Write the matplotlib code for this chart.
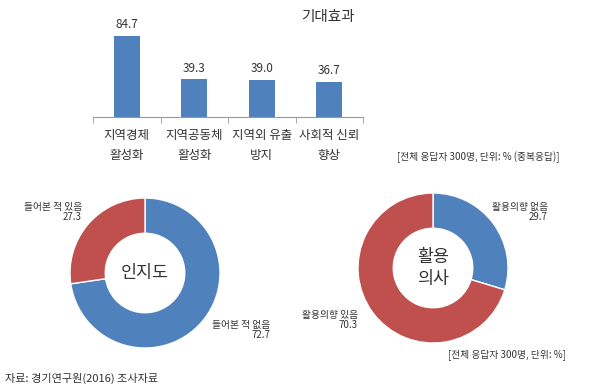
import matplotlib
matplotlib.use("Agg")
from matplotlib import pyplot as plt

plt.rcParams['font.family'] = ['Noto Sans CJK KR', 'DejaVu Sans']

W, H = 600, 388

# 기대효과 (중복응답)
effect_labels = ['지역경제\n활성화', '지역공동체\n활성화', '지역외 유출\n방지', '사회적 신뢰\n향상']
effect_values = [84.7, 39.3, 39.0, 36.7]

# 인지도
aware_labels = ['들어본 적 없음', '들어본 적 있음']
aware_values = [72.7, 27.3]

# 활용의사
use_labels = ['활용의향 없음', '활용의향 있음']
use_values = [29.7, 70.3]

blue = '#4F81BD'
red = '#C0504D'
txt = '#333333'

fig = plt.figure(figsize=(W / 100, H / 100), dpi=100)
fig.patch.set_facecolor('white')

def px_axes(x0, y_top, w, h):
    # pixel box (top-left origin) -> figure fraction
    return fig.add_axes([x0 / W, (H - y_top - h) / H, w / W, h / H])

def px_text(x, y, s, **kw):
    fig.text(x / W, 1 - y / H, s, **kw)

# ---- bar chart ----
ax = px_axes(93, 117 - 95.6, 270, 95.6)
xs = range(len(effect_values))
ax.bar(xs, effect_values, width=0.38, color=blue)
for x, v in zip(xs, effect_values):
    ax.text(x, v + 5, f'{v:.1f}', ha='center', va='bottom', fontsize=8.5, color=txt)
ax.set_xlim(-0.5, len(effect_values) - 0.5)
ax.set_ylim(0, 100)
for s in ['top', 'right', 'left']:
    ax.spines[s].set_visible(False)
ax.spines['bottom'].set_color('#999999')
ax.set_yticks([])
ax.set_xticks(list(xs))
ax.set_xticklabels(effect_labels, fontsize=9, color=txt, linespacing=1.7)
ax.tick_params(axis='x', which='major', length=0, pad=9)
ax.set_xticks([i - 0.5 for i in range(len(effect_values) + 1)], minor=True)
ax.tick_params(axis='x', which='minor', length=4, color='#999999')
ax.set_facecolor('none')

px_text(328, 17, '기대효과', ha='center', va='center', fontsize=10.5, color=txt)
px_text(478, 157, '[전체 응답자 300명, 단위: % (중복응답)]', ha='center', va='center',
        fontsize=7, color=txt)

# ---- donuts ----
def donut(cx, cy, r, values, center_text, fs):
    a = px_axes(cx - r, cy - r, 2 * r, 2 * r)
    a.pie(values, colors=[blue, red], startangle=90, counterclock=False, radius=1,
          wedgeprops=dict(width=0.47, edgecolor='white', linewidth=1))
    a.set_xlim(-1, 1)
    a.set_ylim(-1, 1)
    a.set_aspect('equal')
    a.axis('off')
    a.text(0, 0, center_text, ha='center', va='center', fontsize=fs, color=txt,
           linespacing=1.3)

donut(145, 273, 75, aware_values, '인지도', 12.5)
donut(433, 268, 75, use_values, '활용\n의사', 12.5)

px_text(82, 212, f'{aware_labels[1]}\n{aware_values[1]:.1f}', ha='right', va='center',
        fontsize=7, color=txt, linespacing=1.1)
px_text(270, 330, f'{aware_labels[0]}\n{aware_values[0]:.1f}', ha='right', va='center',
        fontsize=7, color=txt, linespacing=1.1)
px_text(548, 212, f'{use_labels[0]}\n{use_values[0]:.1f}', ha='right', va='center',
        fontsize=7, color=txt, linespacing=1.1)
px_text(358, 320, f'{use_labels[1]}\n{use_values[1]:.1f}', ha='right', va='center',
        fontsize=7, color=txt, linespacing=1.1)

px_text(507, 355, '[전체 응답자 300명, 단위: %]', ha='center', va='center',
        fontsize=7, color=txt)
px_text(5, 378, '자료: 경기연구원(2016) 조사자료', ha='left', va='center',
        fontsize=8, color=txt)

fig.savefig('out.png', dpi=100, facecolor='white')
